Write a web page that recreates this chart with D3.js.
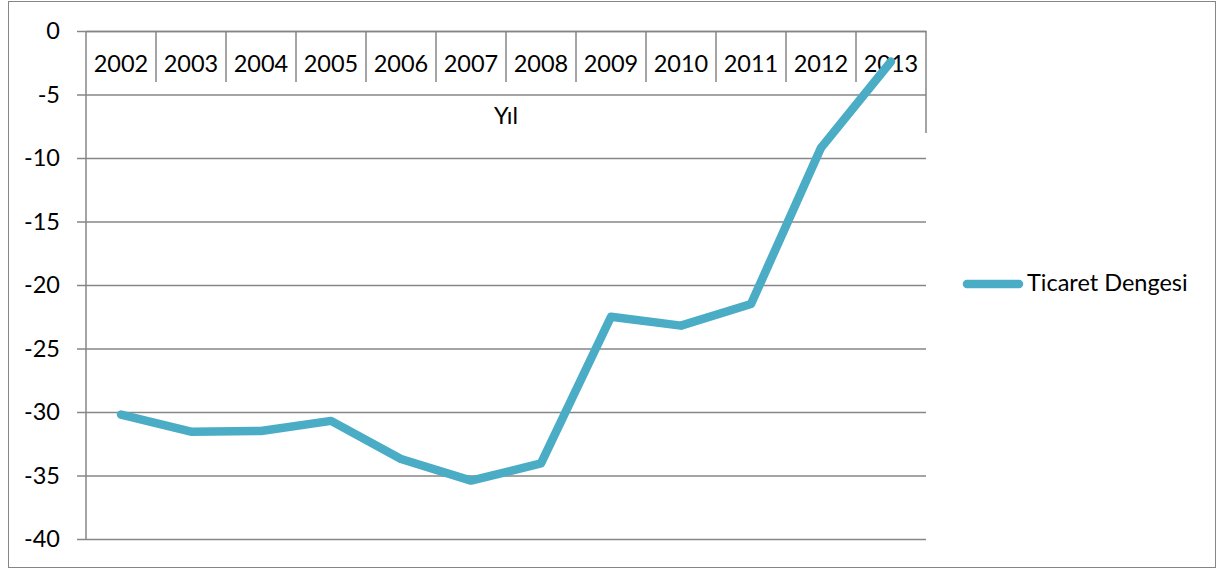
<!DOCTYPE html>
<html><head><meta charset="utf-8">
<script src="https://cdn.jsdelivr.net/npm/d3@7"></script>
<style>body{margin:0;background:#fff}svg{display:block}text{font-family:Lato,"Open Sans",sans-serif;fill:#000}</style>
</head><body><svg id="c" width="1222" height="569"></svg>
<script>
const years = ["2002","2003","2004","2005","2006","2007","2008","2009","2010","2011","2012","2013"];
const ticaretDengesi = [-30.2,-31.55,-31.5,-30.7,-33.7,-35.4,-34.05,-22.5,-23.2,-21.5,-9.2,-2.4];
const yTicks = [0,-5,-10,-15,-20,-25,-30,-35,-40];
const seriesName = "Ticaret Dengesi";
const axisTitle = "Yıl";

const svg = d3.select("#c");
const L = 86, R = 926, T = 31, B = 539;
const grid = "#868686", color = "#4BACC6", fs = 23.5;

svg.append("rect").attr("x",8.5).attr("y",1.5).attr("width",1207).attr("height",566)
  .attr("fill","none").attr("stroke",grid).attr("stroke-width",1);

const x = d3.scaleBand().domain(years).range([L,R]);
const y = d3.scaleLinear().domain([-40,0]).range([B,T]);

// gridlines + y tick marks
const yAxis = d3.axisLeft(y).tickValues(yTicks).tickSize(R-L+9).tickFormat(d=>d);
const gy = svg.append("g").attr("transform",`translate(${R},0)`).call(yAxis);
gy.select(".domain").remove();
gy.selectAll(".tick line").attr("stroke",grid).attr("stroke-width",1.5);
gy.selectAll(".tick text").attr("x",-(R-L)-26).attr("font-size",fs).attr("text-anchor","end")
  .style("font-family","Lato,sans-serif").attr("fill","#000");

// left axis line
svg.append("line").attr("x1",L).attr("x2",L).attr("y1",T).attr("y2",B)
  .attr("stroke",grid).attr("stroke-width",1.5);

// category axis at top (table-like)
const xAxis = d3.axisBottom(x).tickSize(0).tickSizeOuter(0);
const gx = svg.append("g").attr("transform",`translate(0,${T})`).call(xAxis);
gx.select(".domain").attr("stroke",grid).attr("stroke-width",1.5);
gx.selectAll(".tick text").attr("y",35).attr("dy",0).attr("font-size",fs)
  .style("font-family","Lato,sans-serif").attr("fill","#000").attr("dominant-baseline","middle");
// separators
const seps = years.map(d=>x(d)).concat([R]);
svg.append("g").selectAll("line").data(seps).join("line")
  .attr("x1",d=>d).attr("x2",d=>d).attr("y1",T).attr("y2",(d,i)=> (i===0)?T:(i===seps.length-1?133:82))
  .attr("stroke",grid).attr("stroke-width",1.5);

svg.append("text").attr("x",(L+R)/2).attr("y",118).attr("text-anchor","middle")
  .attr("dominant-baseline","middle").attr("font-size",fs).text(axisTitle);

// series line
const line = d3.line().x((d,i)=>x(years[i])+x.bandwidth()/2).y(d=>y(d));
svg.append("path").datum(ticaretDengesi).attr("d",line).attr("fill","none")
  .attr("stroke",color).attr("stroke-width",8.5).attr("stroke-linejoin","round").attr("stroke-linecap","round");

// legend
svg.append("line").attr("x1",967).attr("x2",1019).attr("y1",284).attr("y2",284)
  .attr("stroke",color).attr("stroke-width",8.5).attr("stroke-linecap","round");
svg.append("text").attr("x",1027).attr("y",285).attr("dominant-baseline","middle")
  .attr("font-size",fs).text(seriesName);
</script></body></html>
